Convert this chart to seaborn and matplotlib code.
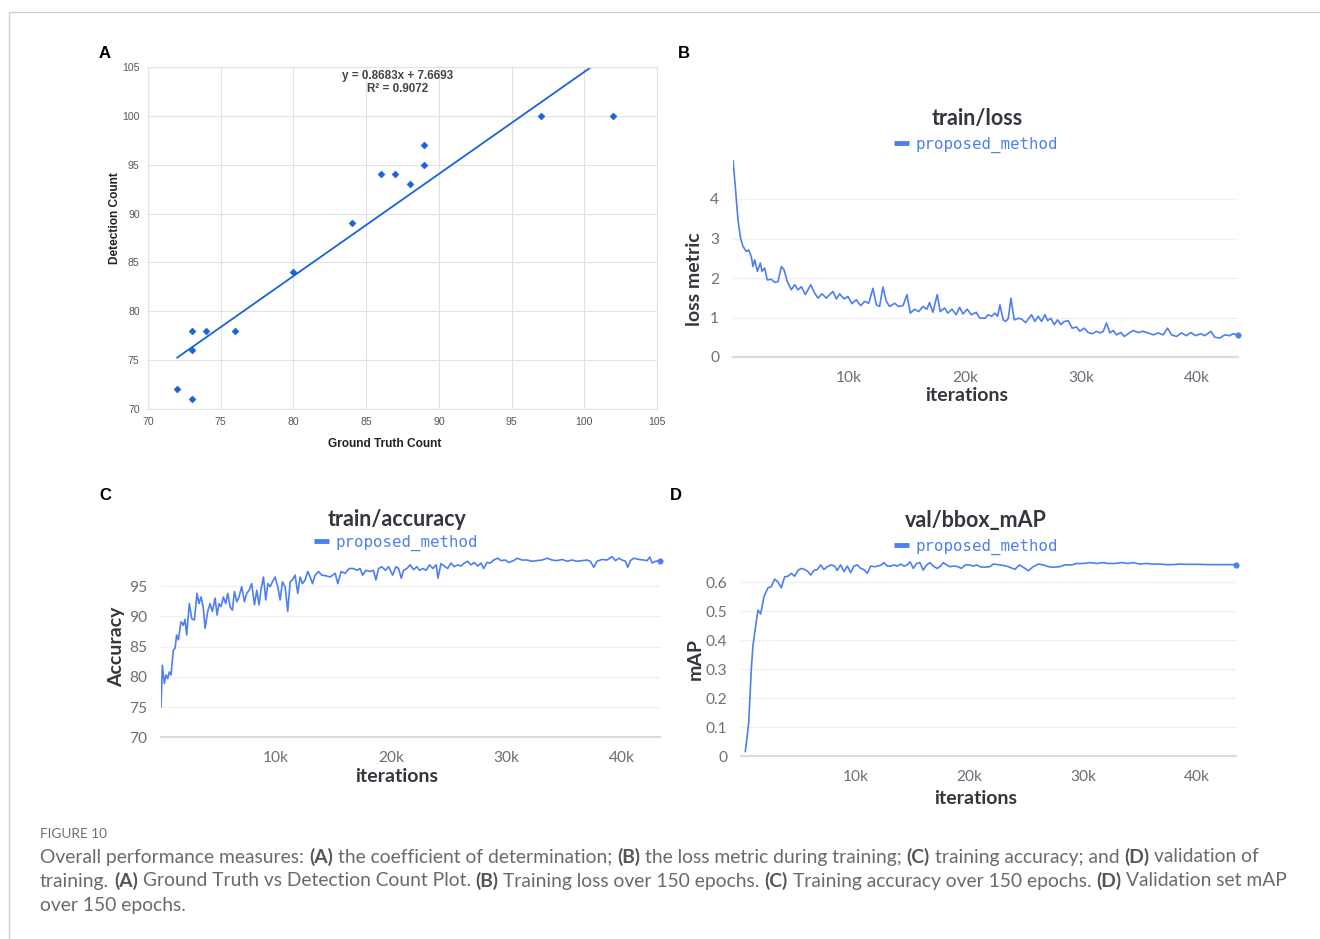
import numpy as np
import pandas as pd
import matplotlib
matplotlib.use("Agg")
import matplotlib.pyplot as plt
from matplotlib.lines import Line2D
from matplotlib.ticker import FuncFormatter, FixedLocator
import seaborn as sns

# ---------------- data ----------------
# Panel A
gt_count = [72, 73, 73, 73, 74, 76, 80, 84, 86, 87, 88, 89, 89, 97, 102]
det_count = [72, 71, 76, 78, 78, 78, 84, 89, 94, 94, 93, 95, 97, 100, 100]
eq_line1 = "y = 0.8683x + 7.6693"
eq_line2 = "R² = 0.9072"
a_ticks = [70, 75, 80, 85, 90, 95, 100, 105]

# Panel B : train/loss (iterations in thousands)
loss_iter_k = [0, 0.20, 0.43, 0.66, 0.86, 1.15, 1.35, 1.58, 1.72, 1.87, 2.10, 2.36, 2.50, 2.73, 2.96,
               3.30, 3.59, 3.88, 4.17, 4.40, 4.68, 5.03, 5.32, 5.60, 5.89, 6.24, 6.70, 7.04, 7.33,
               7.67, 8.05, 8.33, 8.62, 8.91, 9.20, 9.57, 9.91, 10.26, 10.63, 11.01, 11.35, 11.70,
               12.07, 12.36, 12.64, 12.93, 13.22, 13.51, 13.94, 14.28, 14.66, 15.00, 15.29, 15.66,
               16.01, 16.38, 16.72, 16.95, 17.24, 17.61, 17.87, 18.25, 18.53, 18.88, 19.25, 19.54,
               19.83, 20.20, 20.55, 20.98, 21.26, 21.72, 22.01, 22.30, 22.59, 22.82, 23.02, 23.30,
               23.53, 23.74, 23.97, 24.25, 24.60, 24.89, 25.23, 25.75, 26.03, 26.32, 26.61, 26.90,
               27.13, 27.41, 27.70, 27.99, 28.28, 28.56, 28.91, 29.25, 29.63, 29.91, 30.29, 30.63,
               30.98, 31.35, 31.64, 31.93, 32.21, 32.50, 32.79, 33.07, 33.45, 33.74, 34.08, 34.51,
               34.94, 35.37, 35.80, 36.24, 36.67, 37.10, 37.47, 37.82, 38.25, 38.68, 39.11, 39.48,
               39.89, 40.34, 40.69, 41.21, 41.55, 41.98, 42.41, 42.84, 43.13, 43.51]
loss_vals = [4.99, 4.31, 3.47, 3.00, 2.80, 2.67, 2.71, 2.54, 2.29, 2.46, 2.17, 2.38, 2.17, 2.25, 1.95,
             1.97, 1.89, 1.91, 2.29, 2.21, 1.91, 1.70, 1.83, 1.70, 1.78, 1.58, 1.83, 1.62, 1.49,
             1.60, 1.49, 1.58, 1.66, 1.47, 1.60, 1.47, 1.53, 1.35, 1.45, 1.30, 1.41, 1.36,
             1.74, 1.32, 1.28, 1.77, 1.41, 1.28, 1.36, 1.28, 1.30, 1.58, 1.11, 1.21,
             1.15, 1.28, 1.21, 1.38, 1.13, 1.58, 1.15, 1.24, 1.11, 1.21, 1.07, 1.26,
             1.09, 1.21, 1.07, 1.13, 0.99, 0.98, 1.07, 1.03, 1.11, 1.03, 1.32, 0.94,
             0.90, 0.98, 1.49, 0.94, 0.98, 0.96, 0.87, 1.07, 0.90, 1.03, 0.90, 1.07,
             0.92, 0.98, 0.82, 0.94, 0.82, 0.90, 0.92, 0.73, 0.76, 0.65, 0.73, 0.62,
             0.59, 0.65, 0.61, 0.65, 0.86, 0.61, 0.67, 0.56, 0.62, 0.52, 0.59, 0.67,
             0.62, 0.65, 0.61, 0.56, 0.61, 0.56, 0.73, 0.56, 0.52, 0.61, 0.54, 0.62,
             0.54, 0.59, 0.54, 0.65, 0.50, 0.48, 0.56, 0.54, 0.59, 0.56]

# Panel C : train/accuracy
acc_iter_k = [0, 0.12, 0.29, 0.43, 0.58, 0.72, 0.87, 1.07, 1.22, 1.36, 1.51, 1.74, 1.94, 2.09, 2.23,
              2.46, 2.67, 2.90, 3.13, 3.30, 3.48, 3.68, 3.83, 4.06, 4.26, 4.46, 4.70, 4.87, 5.04,
              5.22, 5.42, 5.62, 5.80, 6.00, 6.20, 6.38, 6.58, 6.78, 7.01, 7.25, 7.45, 7.65, 7.88,
              8.12, 8.32, 8.52, 8.70, 8.90, 9.10, 9.28, 9.48, 9.68, 9.91, 10.14, 10.35, 10.55,
              10.78, 11.01, 11.22, 11.42, 11.65, 11.88, 12.09, 12.29, 12.52, 12.75, 12.96, 13.16,
              13.39, 13.68, 13.97, 14.32, 14.70, 15.13, 15.36, 15.65, 16.00, 16.35, 16.72, 17.01,
              17.30, 17.51, 17.80, 18.17, 18.46, 18.67, 18.90, 19.19, 19.48, 19.77, 20.12, 20.41,
              20.64, 20.87, 21.07, 21.36, 21.65, 21.94, 22.23, 22.46, 22.75, 23.04, 23.33, 23.62,
              23.91, 24.06, 24.32, 24.61, 24.90, 25.19, 25.48, 25.77, 26.06, 26.35, 26.64, 26.93,
              27.22, 27.51, 27.80, 28.03, 28.32, 28.61, 28.90, 29.25, 29.54, 29.91, 30.20, 30.64,
              30.93, 31.36, 31.80, 32.23, 32.67, 33.10, 33.54, 33.97, 34.41, 34.84, 35.28, 35.71,
              36.14, 36.58, 37.01, 37.30, 37.59, 37.88, 38.32, 38.75, 39.19, 39.48, 39.77, 40.06,
              40.35, 40.55, 40.78, 41.07, 41.51, 41.94, 42.23, 42.46, 42.67, 42.96, 43.33]
acc_vals = [75.0, 81.9, 78.9, 80.3, 79.7, 80.8, 80.3, 84.4, 84.7, 86.9, 86.1, 89.1, 88.5, 89.5, 86.9,
            92.1, 89.6, 89.4, 93.8, 92.1, 93.2, 91.3, 88.0, 90.8, 92.1, 90.8, 93.0, 90.2, 92.1,
            91.6, 93.2, 92.1, 93.8, 91.6, 91.0, 94.1, 92.4, 93.2, 94.9, 92.4, 93.8, 94.3, 95.4,
            91.9, 94.3, 91.9, 94.6, 96.5, 92.7, 95.4, 94.9, 95.7, 96.5, 94.9, 92.7, 95.7,
            94.9, 90.8, 95.7, 96.0, 96.8, 93.8, 96.5, 95.4, 96.0, 97.4, 96.5, 95.4,
            96.8, 97.4, 96.8, 96.7, 96.5, 97.1, 95.4, 97.4, 97.1, 97.9, 97.9, 97.6,
            97.9, 96.8, 97.6, 97.4, 97.6, 96.0, 97.9, 98.2, 97.6, 98.2, 96.8, 98.2,
            97.9, 96.3, 97.6, 97.9, 98.5, 97.7, 98.2, 97.6, 97.9, 97.6, 98.5, 97.9,
            98.5, 96.3, 98.7, 98.3, 97.9, 98.8, 98.2, 98.5, 98.3, 98.8, 99.1, 98.5,
            98.9, 98.3, 98.8, 97.9, 98.9, 98.8, 99.3, 99.6, 99.2, 99.3, 98.9, 99.2,
            99.6, 99.3, 99.3, 99.1, 99.2, 99.3, 99.6, 99.3, 99.2, 99.4, 99.1, 99.3,
            99.1, 99.2, 99.3, 99.1, 98.1, 99.1, 99.4, 99.3, 99.9, 99.2, 99.6, 99.3,
            99.1, 98.1, 99.2, 99.6, 99.4, 99.3, 99.2, 99.8, 98.8, 99.1, 99.2]

# Panel D : val/bbox_mAP
map_iter_k = [0.35, 0.64, 0.88, 1.02, 1.23, 1.46, 1.70, 1.99, 2.34, 2.63, 2.92, 3.22, 3.51, 3.80,
              4.09, 4.39, 4.68, 4.97, 5.26, 5.56, 5.85, 6.08, 6.37, 6.67, 6.96, 7.25, 7.54, 7.89,
              8.19, 8.42, 8.71, 9.01, 9.30, 9.59, 9.88, 10.18, 10.47, 10.76, 11.05, 11.35, 11.70,
              11.99, 12.28, 12.51, 12.81, 13.10, 13.39, 13.68, 13.98, 14.27, 14.56, 14.80, 15.09,
              15.38, 15.67, 15.96, 16.26, 16.55, 16.84, 17.19, 17.49, 17.72, 18.01, 18.30, 18.65,
              19.01, 19.30, 19.65, 20.00, 20.35, 20.64, 20.94, 21.29, 21.81, 22.11, 22.69, 23.27,
              24.01, 24.39, 24.74, 25.18, 25.61, 26.05, 26.49, 26.93, 27.37, 27.95, 28.39, 28.98,
              29.42, 30.00, 30.58, 31.17, 31.75, 32.19, 32.78, 33.36, 33.95, 34.39, 34.97, 35.56,
              36.14, 36.73, 37.31, 37.89, 38.48, 39.06, 39.65, 40.23, 40.82, 41.40, 41.99, 42.57,
              43.39]
map_vals = [0.015, 0.11, 0.30, 0.38, 0.44, 0.503, 0.49, 0.55, 0.58, 0.584, 0.61, 0.60, 0.58, 0.618,
            0.62, 0.63, 0.62, 0.64, 0.647, 0.643, 0.636, 0.624, 0.64, 0.643, 0.659, 0.643, 0.653, 0.659,
            0.655, 0.64, 0.659, 0.636, 0.655, 0.632, 0.655, 0.659, 0.647, 0.643, 0.63, 0.655, 0.653,
            0.655, 0.659, 0.667, 0.655, 0.655, 0.659, 0.655, 0.662, 0.655, 0.659, 0.67, 0.647,
            0.664, 0.667, 0.641, 0.659, 0.667, 0.655, 0.647, 0.655, 0.667, 0.659, 0.653, 0.655,
            0.653, 0.647, 0.659, 0.659, 0.655, 0.659, 0.653, 0.651, 0.653, 0.662, 0.659, 0.655,
            0.644, 0.659, 0.651, 0.639, 0.653, 0.662, 0.659, 0.653, 0.651, 0.653, 0.659, 0.659,
            0.664, 0.664, 0.667, 0.664, 0.667, 0.664, 0.664, 0.667, 0.664, 0.667, 0.662, 0.664,
            0.662, 0.662, 0.66, 0.66, 0.662, 0.661, 0.661, 0.661, 0.66, 0.66, 0.66, 0.66,
            0.66]

series_label = "proposed_method"
wb_xticks = [10000, 20000, 30000, 40000]
loss_yticks = [0, 1, 2, 3, 4]
acc_yticks = [70, 75, 80, 85, 90, 95]
map_yticks = [0, 0.1, 0.2, 0.3, 0.4, 0.5, 0.6]

caption_head = "FIGURE 10"
caption_lines = [
    [("Overall performance measures:", False), ("(A)", True), ("the coefficient of determination;", False),
     ("(B)", True), ("the loss metric during training;", False), ("(C)", True),
     ("training accuracy; and", False), ("(D)", True), ("validation of", False)],
    [("training.", False), ("(A)", True), ("Ground Truth vs Detection Count Plot.", False), ("(B)", True),
     ("Training loss over 150 epochs.", False), ("(C)", True), ("Training accuracy over 150 epochs.", False),
     ("(D)", True), ("Validation set mAP", False)],
    [("over 150 epochs.", False)],
]

# ---------------- figure ----------------
sns.set_theme(style="white")
plt.rcParams["font.family"] = ["Lato", "DejaVu Sans"]

W, H = 1320, 939
fig = plt.figure(figsize=(W / 100, H / 100), dpi=100)
fig.patch.set_facecolor("white")


def fx(x):
    return x / W


def fy(y):
    return 1 - y / H


def add_axes_px(left, top, right, bottom):
    return fig.add_axes([fx(left), fy(bottom), (right - left) / W, (bottom - top) / H])


# frame lines
fig.add_artist(Line2D([fx(9), 1.0], [fy(11.5), fy(11.5)], color="#cfcfcf", lw=1.0, transform=fig.transFigure))
fig.add_artist(Line2D([fx(9), fx(9)], [0, fy(11.5)], color="#cfcfcf", lw=1.0, transform=fig.transFigure))

# ---- Panel A ----
blue_a = "#1a62d8"
axA = add_axes_px(148, 67, 657, 409)
sns.regplot(x=gt_count, y=det_count, ax=axA, scatter=False, ci=None, truncate=True,
            line_kws=dict(color=blue_a, lw=1.3))
sns.scatterplot(x=gt_count, y=det_count, ax=axA, marker="D", s=13, color=blue_a,
                edgecolor=blue_a, linewidth=0.3, zorder=5)
axA.set_xlim(70, 105)
axA.set_ylim(70, 105)
axA.set_xticks(a_ticks)
axA.set_yticks(a_ticks)
axA.grid(True, color="#e2e2e2", lw=0.8)
for s in axA.spines.values():
    s.set_color("#e2e2e2")
    s.set_linewidth(0.8)
axA.tick_params(length=0, labelsize=7.6, labelcolor="#555555", pad=6,
                labelfontfamily="Liberation Sans")
axA.set_xlabel("")
axA.set_ylabel("")
fig.text(fx(385), fy(444), "Ground Truth Count", ha="center", va="center", fontsize=8.6,
         fontweight="bold", family="Liberation Sans", color="#222222")
fig.text(fx(115), fy(218), "Detection Count", ha="center", va="center", rotation=90, fontsize=8.6,
         fontweight="bold", family="Liberation Sans", color="#222222")
fig.text(fx(398), fy(75.5), eq_line1, ha="center", va="center", fontsize=8.4, fontweight="bold",
         family="Liberation Sans", color="#444444")
fig.text(fx(398), fy(89.5), eq_line2, ha="center", va="center", fontsize=8.4, fontweight="bold",
         family="Liberation Sans", color="#444444")

# panel letters
for letter, (lx, ly) in zip("ABCD", [(105, 53), (684, 53), (105, 496), (676, 496)]):
    fig.text(fx(lx), fy(ly), letter, ha="center", va="center", fontsize=12, fontweight="bold",
             family="Liberation Sans", color="black")

# ---- W&B style panels ----
wb_blue = "#4e7ef0"
tick_grey = "#6e6e78"
dark = "#35353d"


def k_fmt(v, pos):
    return f"{int(round(v / 1000))}k"


def style_wb(ax, yticks, xmax, ymin, ymax, ylab_fmt=None):
    ax.set_xlim(0, xmax)
    ax.set_ylim(ymin, ymax)
    ax.xaxis.set_major_locator(FixedLocator(wb_xticks))
    ax.xaxis.set_major_formatter(FuncFormatter(k_fmt))
    ax.set_yticks(yticks)
    if ylab_fmt is not None:
        ax.yaxis.set_major_formatter(FuncFormatter(ylab_fmt))
    for name, s in ax.spines.items():
        s.set_visible(name == "bottom")
    ax.spines["bottom"].set_color("#dcdcdc")
    ax.spines["bottom"].set_linewidth(1.6)
    ax.spines["bottom"].set_zorder(1)
    ax.grid(False)
    for yv in yticks[1:]:
        ax.axhline(yv, color="#f0f0f0", lw=1.0, zorder=0)
    ax.tick_params(axis="x", length=7, width=1.2, color="#dcdcdc", direction="out",
                   labelsize=11.2, labelcolor=tick_grey, pad=3)
    ax.tick_params(axis="y", length=0, labelsize=11.2, labelcolor=tick_grey, pad=10)
    ax.set_xlabel("")
    ax.set_ylabel("")
    ax.set_facecolor("white")


def wb_header(ax, title, tx, ty, lx, ly):
    fig.text(fx(tx), fy(ty), title, ha="center", va="center", fontsize=15.5, fontweight="bold",
             color=dark)
    h = Line2D([], [], color=wb_blue, lw=3.5, solid_capstyle="butt")
    leg = fig.legend([h], [series_label], loc="center left", bbox_to_anchor=(fx(lx), fy(ly)),
                     bbox_transform=fig.transFigure, frameon=False, handlelength=0.95,
                     handletextpad=0.45, borderpad=0, borderaxespad=0,
                     prop={"family": "DejaVu Sans Mono", "size": 11.3})
    for t in leg.get_texts():
        t.set_color(wb_blue)


def draw_curve(ax, iters_k, vals):
    df = pd.DataFrame({"iterations": np.array(iters_k) * 1000.0, "value": vals})
    sns.lineplot(data=df, x="iterations", y="value", ax=ax, color=wb_blue, lw=1.2, legend=False)
    sns.scatterplot(data=df.tail(1), x="iterations", y="value", ax=ax, color=wb_blue, s=16,
                    edgecolor=wb_blue, legend=False, zorder=5, clip_on=False)


# Panel B
axB = add_axes_px(733, 159.5, 1238, 357)
draw_curve(axB, loss_iter_k, loss_vals)
style_wb(axB, loss_yticks, 43550, 0, 5.0)
wb_header(axB, "train/loss", 977, 118, 894, 144.5)
fig.text(fx(967), fy(396), "iterations", ha="center", va="center", fontsize=14, fontweight="bold", color=dark)
fig.text(fx(695), fy(279), "loss metric", ha="center", va="center", rotation=90, fontsize=14,
         fontweight="bold", color=dark)

# Panel C
axC = add_axes_px(161, 555.8, 660, 737.3)
draw_curve(axC, acc_iter_k, acc_vals)
style_wb(axC, acc_yticks, 43350, 70, 100)
wb_header(axC, "train/accuracy", 397, 519, 314, 543)
fig.text(fx(397), fy(777), "iterations", ha="center", va="center", fontsize=14, fontweight="bold", color=dark)
fig.text(fx(117), fy(647), "Accuracy", ha="center", va="center", rotation=90, fontsize=14,
         fontweight="bold", color=dark)

# Panel D
axD = add_axes_px(741.3, 560, 1236, 756)
draw_curve(axD, map_iter_k, map_vals)
style_wb(axD, map_yticks, 43400, 0, 0.676, ylab_fmt=lambda v, p: "0" if abs(v) < 1e-9 else f"{v:.1f}")
wb_header(axD, "val/bbox_mAP", 976, 520, 894, 546.5)
fig.text(fx(976), fy(799), "iterations", ha="center", va="center", fontsize=14, fontweight="bold", color=dark)
fig.text(fx(695), fy(659), "mAP", ha="center", va="center", rotation=90, fontsize=14,
         fontweight="bold", color=dark)

# ---- caption ----
fig.text(fx(40), fy(834), caption_head, ha="left", va="center", fontsize=9.8, color="#6f6f6f")
renderer = fig.canvas.get_renderer()
cap_size = 13.9


def text_width(s, weight):
    t = fig.text(0, 0, s, fontsize=cap_size, fontweight=weight)
    w = t.get_window_extent(renderer).width
    t.remove()
    return w


space_w = text_width("x x", "normal") - text_width("xx", "normal")
for i, segs in enumerate(caption_lines):
    x = 40.0
    y = 857 + 24 * i
    for s, bold in segs:
        t = fig.text(fx(x), fy(y), s, ha="left", va="center", fontsize=cap_size,
                     fontweight="bold" if bold else "normal",
                     color="#555555" if bold else "#6a6a6a")
        x += t.get_window_extent(renderer).width * W / fig.bbox.width + space_w

fig.savefig("out.png", dpi=100, facecolor="white")
